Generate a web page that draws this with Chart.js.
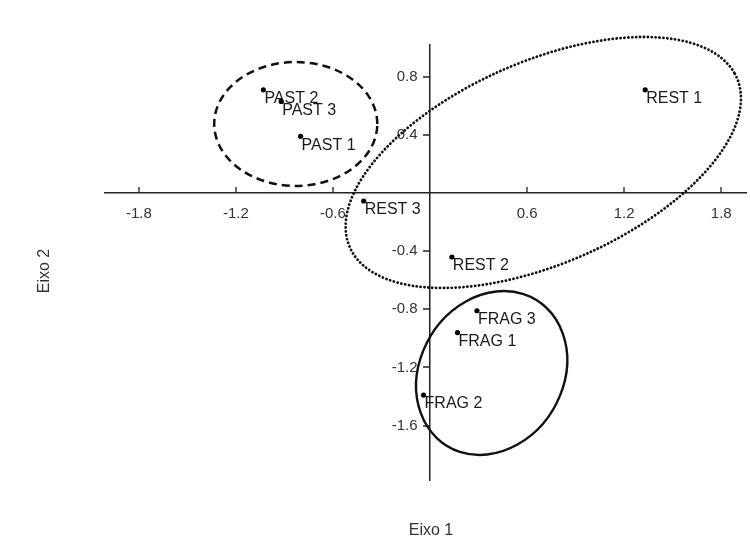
<!DOCTYPE html>
<html>
<head>
<meta charset="utf-8">
<script src="https://cdn.jsdelivr.net/npm/chart.js@4/dist/chart.umd.min.js"></script>
<style>
  html, body { margin: 0; padding: 0; background: #fff; }
  #wrap { width: 750px; height: 558px; }
</style>
</head>
<body>
<div id="wrap"><canvas id="pca" width="750" height="558"></canvas></div>
<script>
// point scores
var pointLabels = ['PAST 1', 'PAST 2', 'PAST 3', 'REST 1', 'REST 2', 'REST 3', 'FRAG 1', 'FRAG 2', 'FRAG 3'];
var eixo1 = [-0.80, -1.03, -0.92, 1.33, 0.135, -0.41, 0.17, -0.04, 0.29];
var eixo2 = [0.39, 0.71, 0.63, 0.71, -0.44, -0.055, -0.96, -1.39, -0.81];

// tick labels
var xTicks = [-1.8, -1.2, -0.6, 0.6, 1.2, 1.8];
var yTicks = [0.8, 0.4, -0.4, -0.8, -1.2, -1.6];

// group ellipses (data units): centre, semi-axes, rotation in degrees
var ellCx = [-0.83, 0.70, 0.381];
var ellCy = [0.475, 0.21, -1.238];
var ellA = [0.504, 1.332, 0.577];
var ellB = [0.426, 0.681, 0.45];
var ellAngle = [0, 27.6, 70];
var ellStyle = ['dashed', 'dotted', 'solid'];

var FONT = '"Liberation Sans", Arial, sans-serif';

var groupsPlugin = {
  id: 'groups',
  afterDatasetsDraw: function (chart) {
    var ctx = chart.ctx;
    var xs = chart.scales.x, ys = chart.scales.y;
    var i;
    // small tick marks on the crossing axes
    var ax0 = xs.getPixelForValue(0), ay0 = ys.getPixelForValue(0);
    ctx.save();
    ctx.strokeStyle = '#222';
    ctx.lineWidth = 1.3;
    ctx.beginPath();
    xTicks.forEach(function (v) {
      var p = Math.round(xs.getPixelForValue(v));
      ctx.moveTo(p, ay0 - 6);
      ctx.lineTo(p, ay0);
    });
    yTicks.forEach(function (v) {
      var p = Math.round(ys.getPixelForValue(v));
      ctx.moveTo(ax0 - 7, p);
      ctx.lineTo(ax0, p);
    });
    ctx.stroke();
    ctx.restore();
    // ellipses
    for (i = 0; i < ellCx.length; i++) {
      var px = xs.getPixelForValue(ellCx[i]);
      var py = ys.getPixelForValue(ellCy[i]);
      var sx = xs.getPixelForValue(1) - xs.getPixelForValue(0);
      var sy = ys.getPixelForValue(0) - ys.getPixelForValue(1);
      ctx.save();
      ctx.beginPath();
      ctx.save();
      ctx.translate(px, py);
      ctx.scale(sx, -sy);
      ctx.rotate(ellAngle[i] * Math.PI / 180);
      ctx.ellipse(0, 0, ellA[i], ellB[i], 0, 0, Math.PI * 2);
      ctx.restore();
      ctx.strokeStyle = '#111';
      if (ellStyle[i] === 'dashed') {
        ctx.lineWidth = 2.5;
        ctx.setLineDash([8, 5]);
      } else if (ellStyle[i] === 'dotted') {
        ctx.lineWidth = 2.8;
        ctx.lineCap = 'round';
        ctx.setLineDash([0.1, 3.8]);
      } else {
        ctx.lineWidth = 2.4;
        ctx.setLineDash([]);
      }
      ctx.stroke();
      ctx.restore();
    }
    // point labels
    var meta = chart.getDatasetMeta(0);
    ctx.save();
    ctx.fillStyle = '#1a1a1a';
    ctx.font = '16px ' + FONT;
    ctx.textBaseline = 'top';
    ctx.textAlign = 'left';
    for (i = 0; i < meta.data.length; i++) {
      var el = meta.data[i];
      ctx.fillText(pointLabels[i], el.x + 1, el.y + 1);
    }
    // axis titles
    ctx.font = '16px ' + FONT;
    ctx.textAlign = 'center';
    ctx.textBaseline = 'middle';
    ctx.fillStyle = '#333';
    ctx.fillText('Eixo 1', 431, 531);
    ctx.translate(45, 271);
    ctx.rotate(-Math.PI / 2);
    ctx.fillText('Eixo 2', 0, 0);
    ctx.restore();
  }
};

new Chart(document.getElementById('pca').getContext('2d'), {
  type: 'scatter',
  data: {
    datasets: [{
      data: eixo1.map(function (v, i) { return { x: v, y: eixo2[i] }; }),
      pointRadius: 2.6,
      pointBackgroundColor: '#000',
      pointBorderWidth: 0
    }]
  },
  plugins: [groupsPlugin],
  options: {
    responsive: false,
    animation: false,
    layout: { padding: { left: 105, right: 0, top: 45, bottom: 78 } },
    plugins: {
      legend: { display: false },
      tooltip: { enabled: false }
    },
    scales: {
      x: {
        type: 'linear',
        position: { y: 0 },
        min: -2.009,
        max: 1.953,
        afterBuildTicks: function (axis) {
          axis.ticks = xTicks.map(function (v) { return { value: v }; });
        },
        ticks: {
          color: '#333',
          padding: 12,
          font: { family: FONT, size: 15 },
          callback: function (v) { return String(v); }
        },
        grid: { drawOnChartArea: false, drawTicks: false },
        border: { color: '#222', width: 1.5 }
      },
      y: {
        type: 'linear',
        position: { x: 0 },
        min: -1.974,
        max: 1.018,
        afterBuildTicks: function (axis) {
          axis.ticks = yTicks.map(function (v) { return { value: v }; });
        },
        ticks: {
          color: '#333',
          font: { family: FONT, size: 15 },
          // positioned axes ignore padding on y, so pad with spaces
          callback: function (v) { return String(v) + '   '; }
        },
        grid: { drawOnChartArea: false, drawTicks: false },
        border: { color: '#222', width: 1.5 }
      }
    }
  }
});
</script>
</body>
</html>
